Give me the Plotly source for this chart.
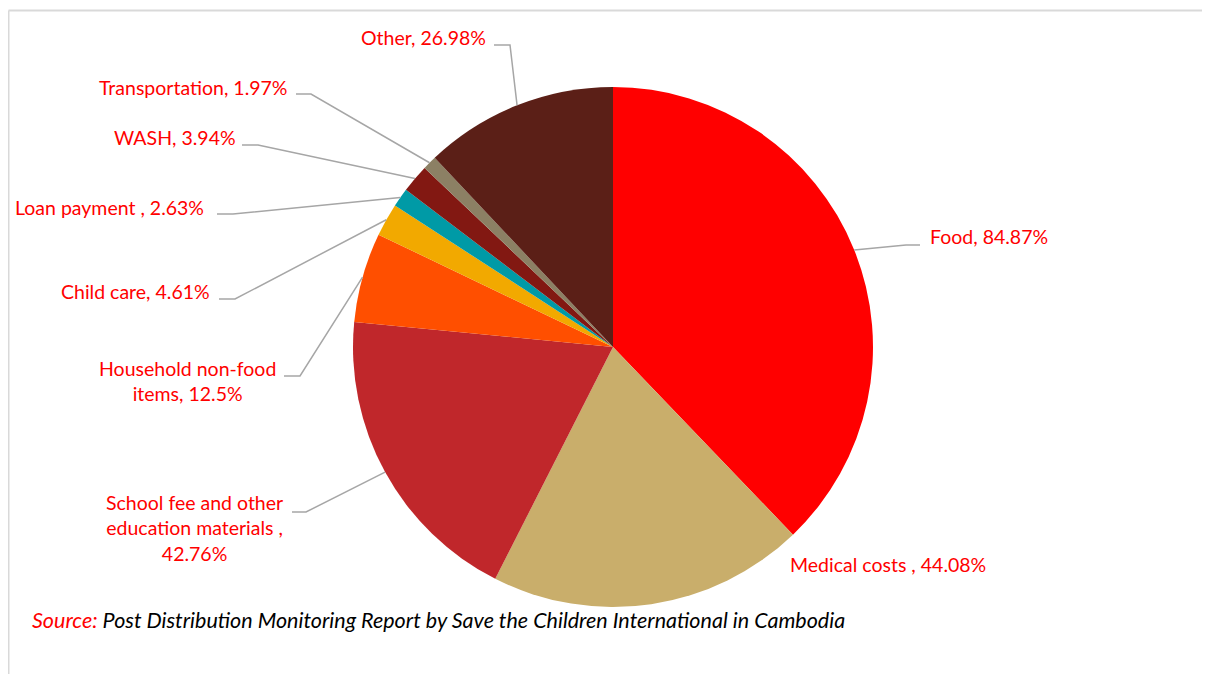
import numpy as np
import plotly.graph_objects as go

# ---- data ----
categories = ["Food", "Medical costs ", "School fee and other education materials ",
              "Household non-food items", "Child care", "Loan payment ", "WASH",
              "Transportation", "Other"]
values = [84.87, 44.08, 42.76, 12.5, 4.61, 2.63, 3.94, 1.97, 26.98]
label_texts = ["Food, 84.87%", "Medical costs , 44.08%",
               "School fee and other<br>education materials ,<br>42.76%",
               "Household non-food<br>items, 12.5%", "Child care, 4.61%",
               "Loan payment , 2.63%", "WASH, 3.94%", "Transportation, 1.97%",
               "Other, 26.98%"]
colors = ["#FF0000", "#C9AE6B", "#C0272B", "#FF4F00", "#F2A900",
          "#009AA6", "#821812", "#8C8064", "#5B1F17"]

OFF = 8                      # default page body margin
W, H = 1210 - OFF, 674 - OFF
CX, CY, R = 613, 347, 260    # pie centre / radius in page pixels (layout)

def px(x):
    return (x - OFF) / W

def py(y):
    return 1 - (y - OFF) / H

fig = go.Figure(go.Pie(
    labels=categories, values=values, sort=False, direction="clockwise",
    rotation=0, marker=dict(colors=colors, line=dict(width=0)),
    textinfo="none", hoverinfo="label+value", showlegend=False,
    domain=dict(x=[px(CX - R), px(CX + R)], y=[py(CY + R), py(CY - R)]),
))

# label layout: (anchor x, y, xanchor) and leader elbow (start x, elbow x, y) in pixels
label_pos = [
    (928, 237, "left"), (788, 564, "left"), (285, 528, "right"), (278, 381, "right"),
    (212, 292, "right"), (206, 207, "right"), (238, 137, "right"), (290, 88, "right"),
    (488, 38, "right"),
]
elbows = [
    (920, 906, 245), None, (292, 306, 512), (284, 300, 376), (219, 235, 299),
    (217, 233, 214), (242, 258, 145), (296, 311, 94), (494, 510, 45),
]

total = sum(values)
cum = np.cumsum([0] + values)
shapes = []
annotations = []
for i, txt in enumerate(label_texts):
    lx, ly, xa = label_pos[i]
    annotations.append(dict(
        x=px(lx), y=py(ly), xref="paper", yref="paper", text=txt, showarrow=False,
        xanchor=xa, yanchor="middle", align="center",
        font=dict(family="Lato", size=19.5, color="#FF0000")))
    if elbows[i] is not None:
        mid = (cum[i] + cum[i + 1]) / 2 / total * 2 * np.pi
        ex, ey = CX + R * np.sin(mid), CY - R * np.cos(mid)
        sx, bx, by = elbows[i]
        path = f"M {px(sx)} {py(by)} L {px(bx)} {py(by)} L {px(ex)} {py(ey)}"
        shapes.append(dict(type="path", xref="paper", yref="paper", path=path,
                           line=dict(color="#A6A6A6", width=1.5)))

# frame lines
shapes.append(dict(type="line", xref="paper", yref="paper", x0=px(8.5), x1=1,
                   y0=py(10.5), y1=py(10.5), line=dict(color="#D9D9D9", width=2)))
shapes.append(dict(type="line", xref="paper", yref="paper", x0=px(8.5), x1=px(8.5),
                   y0=py(10.5), y1=0, line=dict(color="#D9D9D9", width=2)))

annotations.append(dict(
    x=px(30), y=py(620), xref="paper", yref="paper", showarrow=False,
    xanchor="left", yanchor="middle",
    text="<i><span style='color:#FF0000'>Source:</span> Post Distribution Monitoring Report by Save the Children International in Cambodia</i>",
    font=dict(family="Lato", size=21.5, color="#000000")))

fig.update_layout(
    width=W, height=H, margin=dict(l=0, r=0, t=0, b=0),
    paper_bgcolor="white", plot_bgcolor="white",
    shapes=shapes, annotations=annotations,
)

fig.write_html("out.html")
